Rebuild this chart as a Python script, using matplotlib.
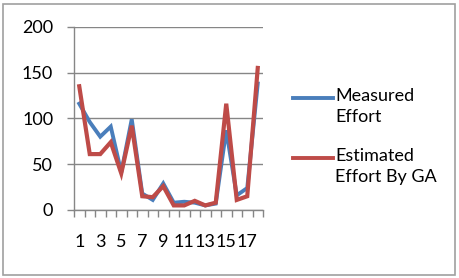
import numpy as np
import matplotlib.pyplot as plt
from matplotlib.lines import Line2D
from matplotlib.patches import Rectangle

points = np.arange(1, 19)
measured = [116, 96, 80, 91, 41, 99, 18, 11, 29, 8, 9, 8, 5, 7, 87, 16, 24, 138]
estimated = [135, 61, 61, 74, 40, 92, 15, 14, 26, 5, 5, 10, 5, 8, 116, 11, 15, 155]
series_names = ['Measured\nEffort', 'Estimated\nEffort By GA']

plt.rcParams['font.family'] = ['Lato', 'DejaVu Sans']
fig = plt.figure(figsize=(4.59, 2.78), dpi=100)
ax = fig.add_axes([74/459, 1-210/278, 189/459, (210-26.7)/278])

grey = '#868686'
blue = '#4A7EBB'
red = '#BE4B48'
ax.plot(points, measured, color=blue, lw=2.8, solid_joinstyle='miter', zorder=3)
ax.plot(points, estimated, color=red, lw=3.0, solid_joinstyle='miter', zorder=4)

ax.set_xlim(0.5, 18.5)
ax.set_ylim(0, 200)
ax.set_yticks([0, 50, 100, 150, 200])
ax.set_xticks(points[::2])
ax.set_xticks(np.arange(0.5, 19, 1), minor=True)
ax.tick_params(axis='x', which='major', length=0, pad=17, labelsize=13)
ax.tick_params(axis='x', which='minor', length=5, color=grey, width=1, direction='out')
ax.tick_params(axis='y', length=5, color=grey, width=1, pad=10, labelsize=13)
ax.grid(axis='y', color=grey, lw=1)
for s in ['top', 'right']:
    ax.spines[s].set_visible(False)
for s in ['left', 'bottom']:
    ax.spines[s].set_color(grey)
    ax.spines[s].set_linewidth(1)

# legend drawn in figure coordinates
for i, (name, col) in enumerate(zip(series_names, [blue, red])):
    y = 1 - (98 + 60*i)/278
    fig.add_artist(Line2D([293/459, 333/459], [y, y], color=col, lw=2.8,
                          transform=fig.transFigure))
    fig.text(335/459, y + 0.037, name, fontsize=13, va='top', ha='left',
             linespacing=1.4)

fig.add_artist(Rectangle((3/459, 3/278), 452/459, 271/278, fill=False,
                         edgecolor='#a0a0a0', lw=1.2, transform=fig.transFigure))

fig.savefig('out.png', dpi=100)
